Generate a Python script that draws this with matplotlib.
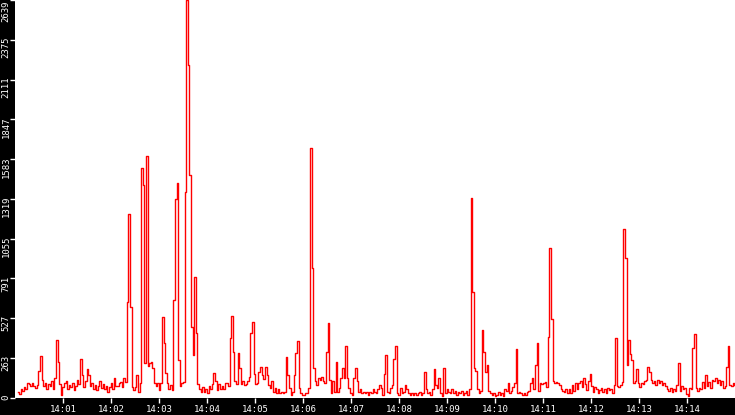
import numpy as np
import matplotlib
matplotlib.use("Agg")
import matplotlib.pyplot as plt
import matplotlib.transforms as mtransforms

# requests per sample, 14:00:04 .. 14:15:00, one line per minute
requests = [
    40, 25, 55, 45, 70, 60, 100, 90, 75, 95, 80, 65, 85, 180, 280, 120, 80, 100, 60, 90, 75, 110, 60, 130, 380, 240, 90, 20, 70, 100,
    110, 60, 85, 70, 95, 50, 80, 120, 90, 255, 150, 70, 110, 190, 150, 80, 100, 60, 85, 50, 75, 110, 65, 90, 55, 80, 40, 70, 95, 60,
    130, 75, 80, 95, 105, 70, 130, 105, 635, 1222, 600, 70, 50, 70, 150, 40, 100, 1527, 1413, 230, 1607, 210, 230, 235, 200, 95, 80, 95, 50, 95,
    535, 365, 165, 95, 60, 85, 50, 650, 1320, 1425, 250, 80, 95, 105, 1365, 2639, 2210, 1480, 470, 285, 800, 430, 90, 60, 40, 70, 35, 55, 30, 75,
    60, 90, 165, 110, 50, 90, 55, 80, 60, 95, 100, 80, 395, 540, 300, 110, 90, 295, 200, 90, 110, 85, 90, 110, 140, 430, 500, 160, 90, 100,
    170, 205, 150, 125, 205, 150, 85, 65, 110, 40, 65, 30, 55, 30, 40, 30, 40, 270, 150, 65, 20, 40, 150, 295, 375, 65, 30, 20, 20, 30,
    30, 65, 1655, 860, 200, 110, 85, 130, 120, 140, 110, 100, 300, 495, 120, 30, 110, 40, 235, 40, 65, 130, 200, 130, 340, 130, 65, 30, 20, 130,
    200, 110, 40, 55, 30, 40, 30, 40, 20, 40, 30, 55, 40, 30, 55, 85, 65, 20, 160, 285, 40, 30, 65, 85, 255, 340, 30, 20, 65, 30,
    40, 85, 55, 30, 20, 30, 20, 30, 20, 30, 40, 20, 30, 170, 55, 30, 40, 20, 55, 190, 85, 65, 130, 30, 10, 195, 30, 60, 40, 30,
    55, 30, 45, 20, 40, 30, 45, 20, 30, 45, 20, 60, 1327, 700, 195, 180, 60, 30, 45, 450, 300, 170, 215, 45, 30, 20, 30, 10, 20, 40,
    20, 30, 10, 60, 45, 100, 30, 45, 70, 95, 325, 30, 40, 30, 20, 30, 20, 40, 45, 95, 130, 60, 215, 360, 45, 100, 90, 95, 105, 70,
    400, 995, 520, 110, 95, 105, 95, 85, 60, 45, 40, 60, 30, 55, 30, 85, 45, 95, 60, 95, 110, 70, 130, 90, 50, 110, 160, 80, 40, 70,
    60, 30, 50, 65, 40, 55, 30, 65, 50, 55, 30, 85, 395, 80, 70, 85, 105, 1117, 925, 215, 380, 290, 250, 100, 110, 190, 100, 70, 100, 90,
    110, 120, 205, 170, 120, 100, 110, 85, 120, 100, 110, 85, 100, 75, 55, 45, 65, 35, 55, 45, 85, 230, 45, 75, 55, 65, 25, 10, 65, 55,
    330, 420, 65, 45, 65, 55, 105, 65, 150, 75, 105, 65, 120, 110, 130, 100, 120, 85, 110, 65, 75, 205, 345, 85, 75, 100, 85,
]

x_tick_labels = ["14:01", "14:02", "14:03", "14:04", "14:05", "14:06", "14:07",
                 "14:08", "14:09", "14:10", "14:11", "14:12", "14:13", "14:14"]
y_max = 2639

# seconds after 14:00:00
times = np.linspace(4, 900, len(requests))

W, H = 735, 415
fig = plt.figure(figsize=(W / 100, H / 100), dpi=100, facecolor="black")
ax = fig.add_axes([15 / W, 17.3 / H, 720 / W, 397.7 / H])
ax.set_facecolor("white")

ax.plot(times, requests, color="red", lw=1.0, drawstyle="steps-mid")

ax.set_xlim(0, 900)
ax.set_ylim(0, y_max)
for s in ax.spines.values():
    s.set_visible(False)

ax.set_xticks([60 * (i + 1) for i in range(len(x_tick_labels))])
ax.set_xticklabels(x_tick_labels)
yt = np.linspace(0, y_max, 11)
ax.set_yticks(yt)
ax.set_yticklabels([])

ax.tick_params(colors="white", direction="out", length=3.6, width=1, pad=1.5,
               labelsize=6.5, labelfontfamily="DejaVu Sans Mono")

# rotated y labels in the black strip, ending just above each tick
strip = mtransforms.blended_transform_factory(fig.transFigure, ax.transData)
for v in yt:
    up = 0 if v == y_max else 3 / 100
    tr = strip + mtransforms.ScaledTranslation(0, up, fig.dpi_scale_trans)
    ax.text(6 / W, v, str(int(v)), transform=tr, rotation=90, ha="center", va="top",
            color="white", fontsize=6.5, family="DejaVu Sans Mono", clip_on=False)

fig.savefig("out.png", dpi=100, facecolor="black")
